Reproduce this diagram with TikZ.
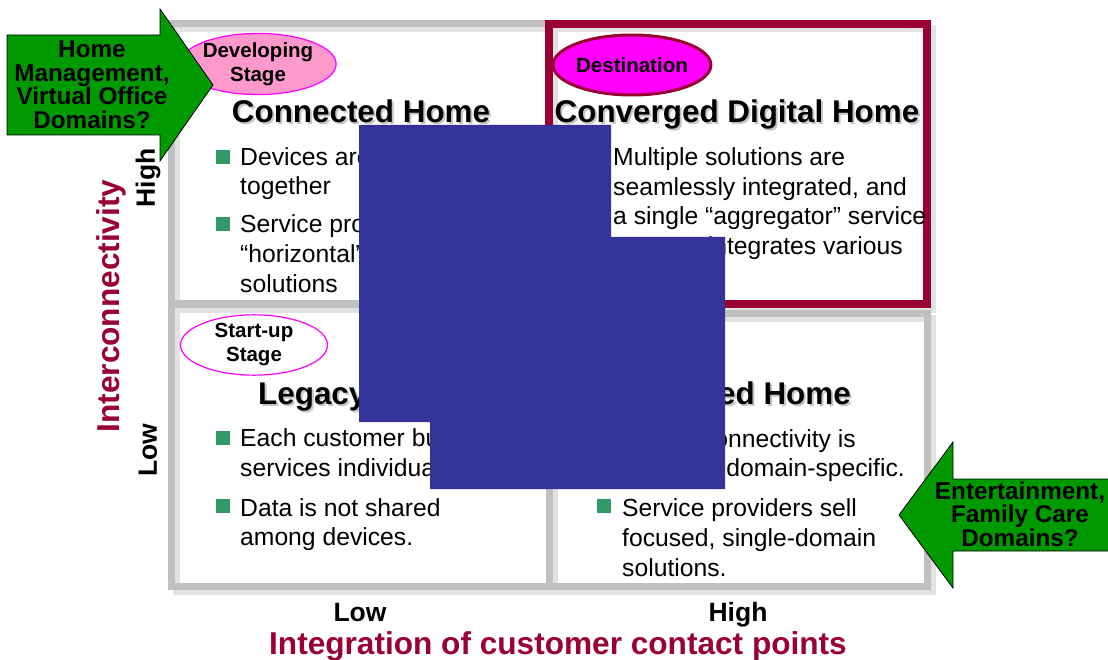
\documentclass[tikz,border=0pt]{standalone}
\usepackage{fontspec}
\setmainfont{Liberation Sans}
\usetikzlibrary{shapes.geometric}

\definecolor{wine}{HTML}{990033}
\definecolor{arrowgreen}{HTML}{009900}
\definecolor{bulletgreen}{HTML}{339966}
\definecolor{boxgray}{HTML}{C0C0C0}
\definecolor{shadowgray}{HTML}{E2E2E2}
\definecolor{stagepink}{HTML}{FF99CC}
\definecolor{stagemagenta}{HTML}{FF00FF}
\definecolor{patchblue}{HTML}{333399}

\newcommand{\bodysize}{\fontsize{24.7}{30}\selectfont}
\newcommand{\titlesize}{\fontsize{31.4}{36}\bfseries\selectfont}
\newcommand{\stagesize}{\fontsize{20.5}{24}\bfseries\selectfont}
\newcommand{\domainsize}{\fontsize{24.3}{23.5}\bfseries\selectfont}

\begin{document}
\begin{tikzpicture}[x=1pt,y=-1pt,line join=miter,
  quad/.style={draw=boxgray,line width=7pt},
  quadshadow/.style={draw=shadowgray,line width=7pt},
  bodyline/.style={anchor=base west,inner sep=0pt,font=\bodysize},
  bodyright/.style={bodyline,anchor=base east},
  bulletsq/.style={fill=bulletgreen,minimum size=14pt,inner sep=0pt},
  quadtitle/.style={anchor=base,inner sep=0pt,font=\titlesize},
  titleshade/.style={text=gray!45,shift={(2,2)}},
  stage/.style={ellipse,inner sep=0pt,align=center,font=\stagesize},
  pointer/.style={fill=arrowgreen,draw=black,line width=0.8pt},
  domains/.style={inner sep=0pt,align=center,font=\domainsize},
  axislabel/.style={inner sep=0pt,font=\fontsize{26.5}{30}\bfseries\selectfont},
  axistitle/.style={inner sep=0pt,text=wine,font=\fontsize{31.6}{36}\bfseries\selectfont}]

  \useasboundingbox (0,0) rectangle (1108,660);
  \clip (0,0) rectangle (1108,660);
  \fill[white] (0,0) rectangle (1108,660);

  % quadrant frames
  \draw[quadshadow] (176,29) rectangle (554,309);
  \draw[quadshadow] (176,309) rectangle (554,591);
  \draw[quadshadow] (554,318) rectangle (932,591);
  \draw[quadshadow] (554,29) rectangle (932,309);
  \draw[quad] (171,24) rectangle (549,304);
  \draw[quad] (171,304) rectangle (549,586);
  \draw[quad] (549,313) rectangle (927,586);
  \draw[draw=wine,line width=8pt] (549,24) rectangle (927,304);

  % stage bubbles
  \node[stage,fill=stagepink,draw=stagemagenta,line width=1.2pt,
        minimum width=142pt,minimum height=57pt] (develop) at (258,64) {Developing\\Stage};
  \node[stage,fill=stagemagenta,draw=wine,line width=3pt,
        minimum width=150pt,minimum height=60pt] (dest) at (632,65) {Destination};
  \node[stage,fill=white,draw=stagemagenta,line width=1.2pt,
        minimum width=147pt,minimum height=59pt] (startup) at (254,345) {Start-up\\Stage};

  % quadrant titles
  \node[quadtitle,titleshade] (conn-sh) at (361,123) {Connected Home};
  \node[quadtitle] (conn) at (361,123) {Connected Home};
  \node[quadtitle,titleshade] (conv-sh) at (737,123) {Converged Digital Home};
  \node[quadtitle] (conv) at (737,123) {Converged Digital Home};
  \node[quadtitle,titleshade,anchor=base west] (legacy-sh) at (258,404) {Legacy};
  \node[quadtitle,anchor=base west] (legacy) at (258,404) {Legacy};
  \node[quadtitle,titleshade,anchor=base east] (edhome-sh) at (851,404) {ed Home};
  \node[quadtitle,anchor=base east] (edhome) at (851,404) {ed Home};

  % top left
  \node[bulletsq] (tl-b1) at (223,157) {};
  \node[bodyline] (tl-t1) at (240,166) {Devices are};
  \node[bodyline] (tl-t2) at (240,195) {together};
  \node[bulletsq] (tl-b2) at (223,224) {};
  \node[bodyline] (tl-t3) at (240,233) {Service pro};
  \node[bodyline] (tl-t4) at (240,263) {“horizontal”};
  \node[bodyline] (tl-t5) at (240,293) {solutions};

  % top right
  \node[bodyline] (tr-t1) at (613,166) {Multiple solutions are};
  \node[bodyline] (tr-t2) at (613,196) {seamlessly integrated, and};
  \node[bodyline] (tr-t3) at (613,225) {a single “aggregator” service};
  \node[bodyright] (tr-t4) at (903,255) {integrates various};

  % bottom left
  \node[bulletsq] (bl-b1) at (223,438) {};
  \node[bodyline] (bl-t1) at (240,446) {Each customer bu};
  \node[bodyline] (bl-t2) at (240,476) {services individua};
  \node[bulletsq] (bl-b2) at (223,506) {};
  \node[bodyline] (bl-t3) at (240,516) {Data is not shared};
  \node[bodyline] (bl-t4) at (240,545) {among devices.};

  % bottom right
  \node[bodyright] (br-t1) at (856,447) {onnectivity is};
  \node[bodyright] (br-t2) at (905,476) {domain-specific.};
  \node[bulletsq] (br-b1) at (604,506) {};
  \node[bodyline] (br-t3) at (622,516) {Service providers sell};
  \node[bodyline] (br-t4) at (622,546) {focused, single-domain};
  \node[bodyline] (br-t5) at (622,576) {solutions.};

  % blue patch
  \fill[patchblue] (359,125) -- (611,125) -- (611,237) -- (725,237)
    -- (725,489) -- (430,489) -- (430,422) -- (359,422) -- cycle;

  % domain arrows
  \draw[pointer] (7,35) -- (160,35) -- (160,9) -- (213,85) -- (160,161)
    -- (160,135) -- (7,135) -- cycle;
  \node[domains] (homemgmt) at (92,85) {Home\\Management,\\Virtual Office\\Domains?};
  \draw[pointer] (1120,479) -- (953,479) -- (953,442) -- (899,515) -- (953,588)
    -- (953,551) -- (1120,551) -- cycle;
  \node[domains] (entertain) at (1020,514) {Entertainment,\\Family Care\\Domains?};

  % axes
  \node[axistitle,rotate=90] (yaxis) at (111,306) {Interconnectivity};
  \node[axislabel,rotate=90] (yhigh) at (148,178) {High};
  \node[axislabel,rotate=90] (ylow) at (148,450) {Low};
  \node[axislabel,anchor=base] (xlow) at (360,621) {Low};
  \node[axislabel,anchor=base] (xhigh) at (738,621) {High};
  \node[axistitle,anchor=base] (xaxis) at (558,654) {Integration of customer contact points};
\end{tikzpicture}
\end{document}
